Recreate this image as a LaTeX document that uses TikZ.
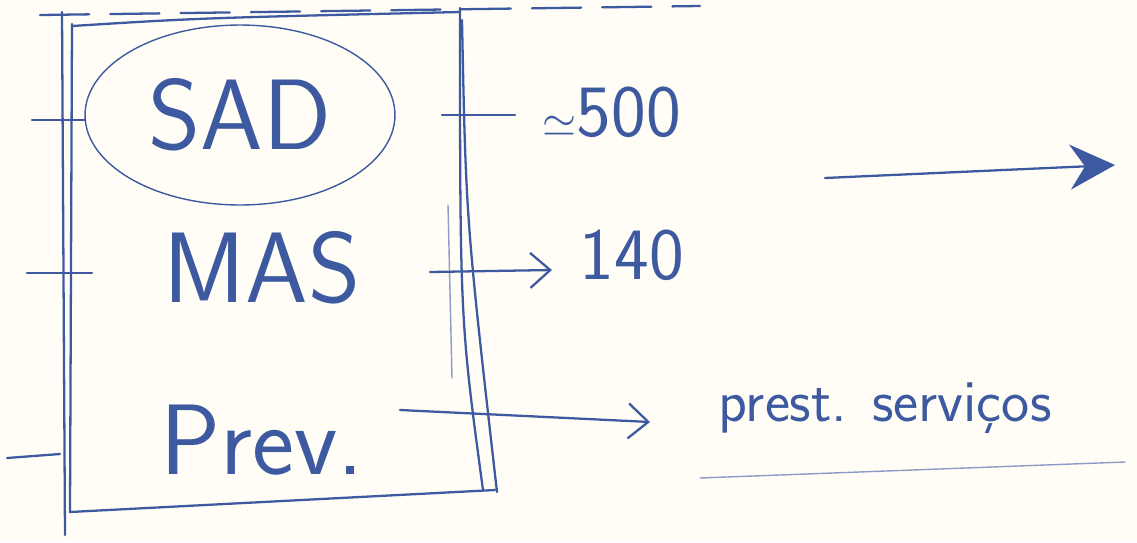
\documentclass[tikz,border=0pt]{standalone}
\usetikzlibrary{positioning,arrows.meta,shapes.geometric}
\definecolor{penBlue}{HTML}{3D5AA0}
\definecolor{paper}{HTML}{FFFDF6}
\tikzset{
  pen/.style={draw=penBlue, line width=1.3pt, line cap=round},
  thinpen/.style={draw=penBlue!60, line width=0.8pt, line cap=round},
  big/.style={text=penBlue, font=\sffamily\fontsize{57}{60}\selectfont, inner sep=0pt},
  num/.style={text=penBlue, font=\sffamily\fontsize{42}{46}\selectfont, inner sep=0pt},
  note/.style={text=penBlue, font=\sffamily\fontsize{34}{38}\selectfont, inner sep=0pt},
  flow/.style={-{Straight Barb[length=4mm,width=7mm]}, pen},
  flowf/.style={-{Stealth[length=9mm,width=9mm,inset=3mm]}, pen},
}
\begin{document}
\begin{tikzpicture}[x=0.02cm, y=-0.02cm]
    \fill[paper] (0,0) rectangle (1137,542);
    \useasboundingbox (0,0) rectangle (1137,542);
    % top dashed line
    \draw[pen, dash pattern=on 28pt off 12pt] (40,15) -- (700,6);
    % the box
    \draw[pen] (62,12) -- (65,535);
    \draw[pen] (72,24) -- (70,512) -- (495,490);
    \draw[pen] (72,26) .. controls (200,18) .. (460,12);
    \draw[pen] (460,8) .. controls (460,320) .. (483,490);
    \draw[pen] (462,20) .. controls (466,220) .. (497,492);
    \draw[thinpen] (448,205) -- (452,378);
    % left ticks
    \draw[pen] (32,120) -- (85,120);
    \draw[pen] (27,273) -- (92,273);
    \draw[pen] (7,458) -- (60,454);
    % items
    \node[big, ellipse, draw=penBlue, line width=0.8pt, minimum width=6.2cm, minimum height=3.6cm] (sad) at (240,115) {SAD};
    \node[big] (mas) at (262,268) {MAS};
    \node[big] (prev) at (262,440) {Prev.};
    % labels
    \node[num] (t500) at (612,112) {$\simeq$500};
    \node[num] (t140) at (632,255) {140};
    \node[note] (srv) at (885,408) {prest. serviços};
    \coordinate (r1) at (442,115);
    \coordinate (r1e) at (515,115);
    \coordinate (r2) at (430,272);
    \coordinate (r2e) at (552,270);
    \coordinate (r3) at (400,410);
    \coordinate (r3e) at (650,422);
    \draw[pen] (r1) -- (r1e);
    \draw[flow] (r2) -- (r2e);
    \draw[flow] (r3) -- (r3e);
    \coordinate (ul) at (700,478);
    \coordinate (ur) at (1125,462);
    \draw[thinpen] (ul) -- (ur);
    % free arrow
    \coordinate (fa) at (825,178);
    \coordinate (fb) at (1115,165);
    \draw[flowf] (fa) -- (fb);
\end{tikzpicture}
\end{document}
